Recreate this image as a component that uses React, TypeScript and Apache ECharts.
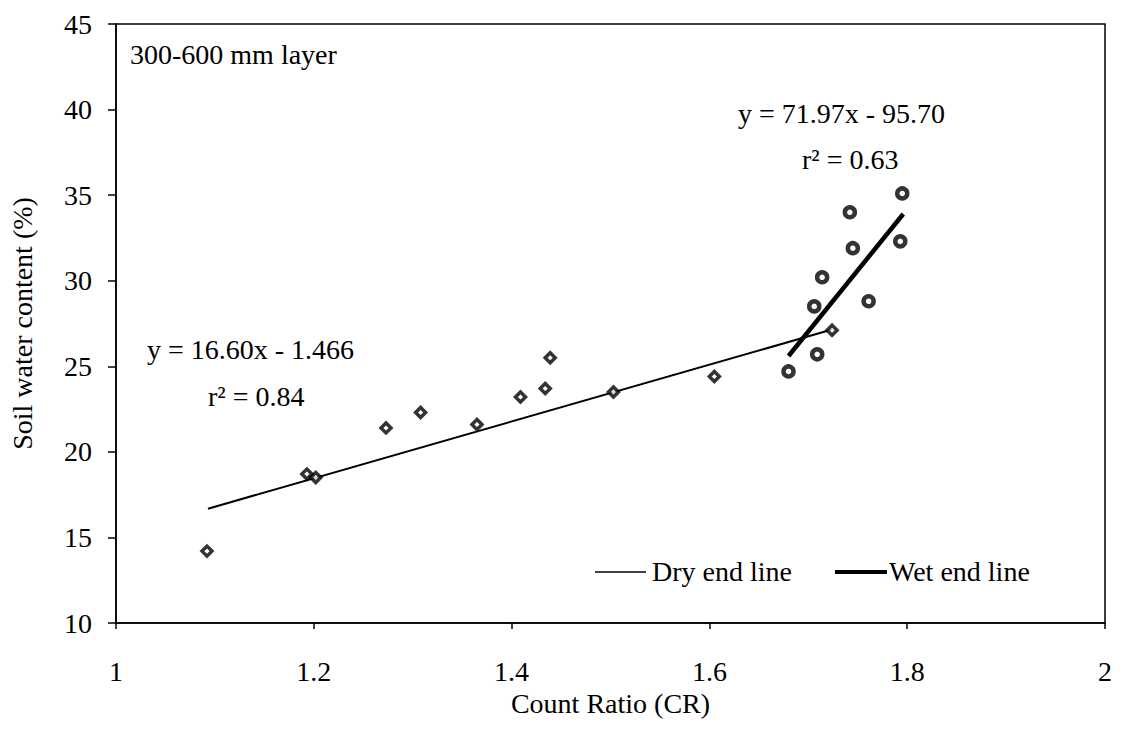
import React, { useEffect, useRef } from "react";
import * as echarts from "echarts";

const xTicks = [1, 1.2, 1.4, 1.6, 1.8, 2];
const dryPoints: [number, number][] = [
  [1.092, 14.2], [1.193, 18.7], [1.202, 18.5], [1.273, 21.4], [1.308, 22.3],
  [1.365, 21.6], [1.409, 23.2], [1.434, 23.7], [1.439, 25.5], [1.503, 23.5],
  [1.605, 24.4], [1.724, 27.1],
];
const wetPoints: [number, number][] = [
  [1.680, 24.7], [1.709, 25.7], [1.706, 28.5], [1.714, 30.2], [1.745, 31.9],
  [1.742, 34.0], [1.761, 28.8], [1.793, 32.3], [1.795, 35.1],
];
const dryLine: [number, number][] = [[1.093, 16.68], [1.724, 27.15]];
const wetLine: [number, number][] = [[1.680, 25.6], [1.796, 33.9]];

const FONT = '"Liberation Serif", "DejaVu Serif", serif';

export default function App() {
  const ref = useRef<HTMLDivElement>(null);
  useEffect(() => {
    if (!ref.current) return;
    const chart = echarts.init(ref.current, null, { renderer: "svg" });
    chart.setOption({
      animation: false,
      backgroundColor: "#ffffff",
      textStyle: { fontFamily: FONT, color: "#000" },
      grid: {
        left: 113.5, right: 20, top: 24, bottom: 120,
        show: true, borderColor: "#000", borderWidth: 1.5, backgroundColor: "transparent",
      },
      xAxis: {
        type: "value", min: xTicks[0], max: xTicks[xTicks.length - 1], interval: 0.2,
        name: "Count Ratio (CR)", nameLocation: "middle", nameGap: 62,
        nameTextStyle: { fontFamily: FONT, fontSize: 28, color: "#000" },
        axisLine: { show: true, lineStyle: { color: "#000", width: 1.5 } },
        axisTick: { show: true, inside: false, length: 6, lineStyle: { color: "#000", width: 1.5 } },
        axisLabel: { fontFamily: FONT, fontSize: 28, color: "#000", margin: 34,
          formatter: (v: number) => String(parseFloat(v.toFixed(1))) },
        splitLine: { show: false },
      },
      yAxis: {
        type: "value", min: 10, max: 45, interval: 5,
        name: "Soil water content (%)", nameLocation: "middle", nameGap: 80, nameRotate: 90,
        nameTextStyle: { fontFamily: FONT, fontSize: 28, color: "#000" },
        axisLine: { show: true, lineStyle: { color: "#000", width: 1.5 } },
        axisTick: { show: true, inside: false, length: 8, lineStyle: { color: "#000", width: 1.5 } },
        axisLabel: { fontFamily: FONT, fontSize: 28, color: "#000", margin: 24 },
        splitLine: { show: false },
      },
      series: [
        {
          name: "Dry end line", type: "line", data: dryLine, symbol: "none",
          lineStyle: { color: "#000", width: 2 }, z: 3,
        },
        {
          name: "Wet end line", type: "line", data: wetLine, symbol: "none",
          lineStyle: { color: "#000", width: 4.5 }, z: 3,
        },
        {
          name: "Dry", type: "scatter", data: dryPoints, symbol: "diamond", symbolSize: 10,
          itemStyle: { color: "#fff", borderColor: "#000", borderWidth: 3.5 }, z: 4,
        },
        {
          name: "Wet", type: "scatter", data: wetPoints, symbol: "circle", symbolSize: 10,
          itemStyle: { color: "#fff", borderColor: "#000", borderWidth: 4.5 }, z: 4,
        },
      ],
      graphic: [
        { type: "text", left: 130, top: 40, style: { text: "300-600 mm layer", font: `28px ${FONT}`, fill: "#000" } },
        { type: "text", left: 147, top: 335, style: { text: "y = 16.60x - 1.466", font: `28px ${FONT}`, fill: "#000" } },
        { type: "text", left: 208, top: 382, style: { text: "r² = 0.84", font: `28px ${FONT}`, fill: "#000" } },
        { type: "text", left: 738, top: 99, style: { text: "y = 71.97x - 95.70", font: `28px ${FONT}`, fill: "#000" } },
        { type: "text", left: 802, top: 145, style: { text: "r² = 0.63", font: `28px ${FONT}`, fill: "#000" } },
        { type: "line", shape: { x1: 595, y1: 572, x2: 646, y2: 572 }, style: { stroke: "#000", lineWidth: 1.5 } },
        { type: "text", left: 652, top: 557, style: { text: "Dry end line", font: `28px ${FONT}`, fill: "#000" } },
        { type: "line", shape: { x1: 835, y1: 572, x2: 887, y2: 572 }, style: { stroke: "#000", lineWidth: 4 } },
        { type: "text", left: 889, top: 557, style: { text: "Wet end line", font: `28px ${FONT}`, fill: "#000" } },
      ],
    });
    return () => chart.dispose();
  }, []);
  return <div ref={ref} style={{ position: "fixed", left: 0, top: 0, width: 1125, height: 743 }} />;
}
